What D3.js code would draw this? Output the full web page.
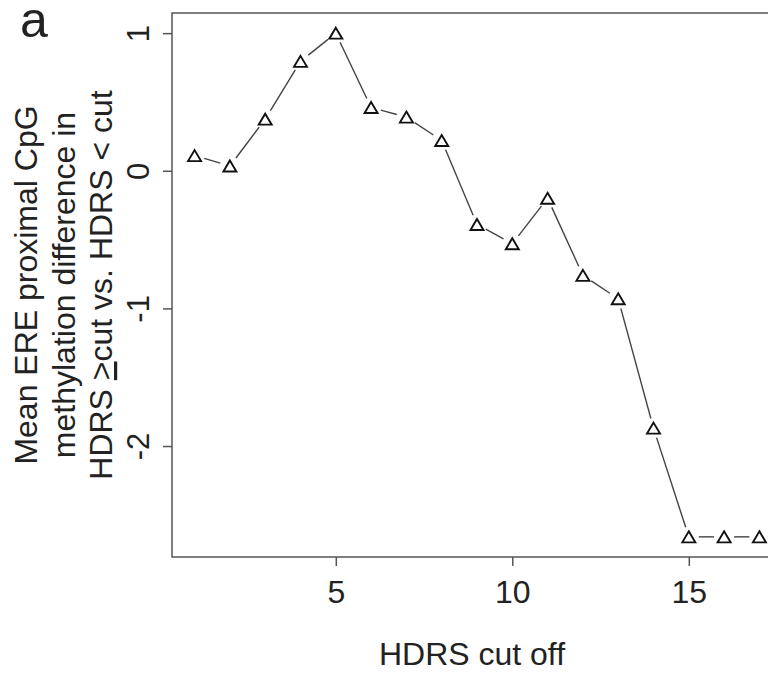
<!DOCTYPE html>
<html>
<head>
<meta charset="utf-8">
<script src="https://cdn.jsdelivr.net/npm/d3@7"></script>
<style>
  body { margin: 0; background: #fff; }
  text { font-family: "Liberation Sans", Arial, sans-serif; fill: #222; }
</style>
</head>
<body>
<div id="chart"></div>
<script>
// data
var cutoffs = [1, 2, 3, 4, 5, 6, 7, 8, 9, 10, 11, 12, 13, 14, 15, 16, 17];
var meanDiff = [0.11, 0.035, 0.375, 0.795, 1.0, 0.46, 0.39, 0.22, -0.39, -0.53, -0.20, -0.76, -0.93, -1.87, -2.66, -2.66, -2.66];
var xTicks = [5, 10, 15];
var yTicks = [-2, -1, 0, 1];
var yLabelLines = ["Mean ERE proximal CpG", "methylation difference in", null];

var svgWidth = 768;
var svgHeight = 673;

var plot = { left: 172, right: 782, top: 13, bottom: 557 };

var svg = d3.select("#chart")
  .append("svg")
  .attr("width", svgWidth)
  .attr("height", svgHeight);

// R style 4% padding on each side of the data range
function padded(ext) {
  var p = (ext[1] - ext[0]) * 0.04;
  return [ext[0] - p, ext[1] + p];
}

var xScale = d3.scaleLinear()
  .domain(padded(d3.extent(cutoffs)))
  .range([plot.left, plot.right]);

var yScale = d3.scaleLinear()
  .domain(padded(d3.extent(meanDiff)))
  .range([plot.bottom, plot.top]);

var axisColor = "#555";

// box (right side falls outside the window)
svg.append("rect")
  .attr("x", plot.left)
  .attr("y", plot.top)
  .attr("width", plot.right - plot.left)
  .attr("height", plot.bottom - plot.top)
  .attr("fill", "none")
  .attr("stroke", axisColor)
  .attr("stroke-width", 1.5);

// x axis
var xAxis = svg.append("g")
  .attr("transform", `translate(0, ${plot.bottom})`)
  .call(d3.axisBottom(xScale).tickValues(xTicks).tickSize(9).tickPadding(14));
xAxis.select(".domain").remove();
xAxis.selectAll("line").attr("stroke", axisColor).attr("stroke-width", 1.5);
xAxis.selectAll("text")
  .attr("fill", "#222")
  .style("font-size", "32px");

// y axis, labels rotated like R's default
var yAxis = svg.append("g")
  .attr("transform", `translate(${plot.left}, 0)`)
  .call(d3.axisLeft(yScale).tickValues(yTicks).tickSize(9).tickFormat(d3.format("d")));
yAxis.select(".domain").remove();
yAxis.selectAll("line").attr("stroke", axisColor).attr("stroke-width", 1.5);
yAxis.selectAll("text")
  .attr("fill", "#222")
  .attr("x", null)
  .attr("dy", null)
  .attr("text-anchor", "middle")
  .attr("transform", "translate(-23, 0) rotate(-90)")
  .style("font-size", "31px")
  .text(d => d < 0 ? "-" + Math.abs(d) : d);

// connecting line with gaps round the points (type = "b")
var gap = 10;
var pts = cutoffs.map((c, i) => [xScale(c), yScale(meanDiff[i])]);
var segs = [];
for (var i = 0; i < pts.length - 1; i++) {
  var dx = pts[i + 1][0] - pts[i][0];
  var dy = pts[i + 1][1] - pts[i][1];
  var len = Math.sqrt(dx * dx + dy * dy);
  if (len > 2 * gap) {
    segs.push([
      pts[i][0] + dx / len * gap, pts[i][1] + dy / len * gap,
      pts[i + 1][0] - dx / len * gap, pts[i + 1][1] - dy / len * gap
    ]);
  }
}
svg.selectAll(".seg")
  .data(segs)
  .enter()
  .append("line")
  .attr("x1", d => d[0])
  .attr("y1", d => d[1])
  .attr("x2", d => d[2])
  .attr("y2", d => d[3])
  .attr("stroke", "#444")
  .attr("stroke-width", 1.4);

// open triangles
svg.selectAll(".pt")
  .data(cutoffs)
  .enter()
  .append("path")
  .attr("transform", (d, i) => `translate(${xScale(d)}, ${yScale(meanDiff[i])})`)
  .attr("d", "M0,-5.5L6.5,5.5L-6.5,5.5Z")
  .attr("fill", "none")
  .attr("stroke", "#111")
  .attr("stroke-width", 1.9)
  .attr("stroke-linejoin", "miter");

// x title
svg.append("text")
  .attr("x", (plot.left + plot.right) / 2 - 5)
  .attr("y", 665)
  .attr("text-anchor", "middle")
  .style("font-size", "32px")
  .text("HDRS cut off");

// y title, three lines
var yMid = (plot.top + plot.bottom) / 2;
var lineX = [37, 75, 112];
yLabelLines.forEach(function(line, i) {
  var t = svg.append("text")
    .attr("transform", `translate(${lineX[i]}, ${yMid}) rotate(-90)`)
    .attr("text-anchor", "middle")
    .style("font-size", "32px");
  if (line) {
    t.text(line);
  } else {
    // underlined ">" stands for "greater or equal"
    t.append("tspan").text("HDRS ");
    t.append("tspan").style("text-decoration", "underline").text(">");
    t.append("tspan").text("cut vs. HDRS < cut");
  }
});

// panel letter
svg.append("text")
  .attr("x", 20)
  .attr("y", 37)
  .style("font-size", "50px")
  .text("a");
</script>
</body>
</html>
